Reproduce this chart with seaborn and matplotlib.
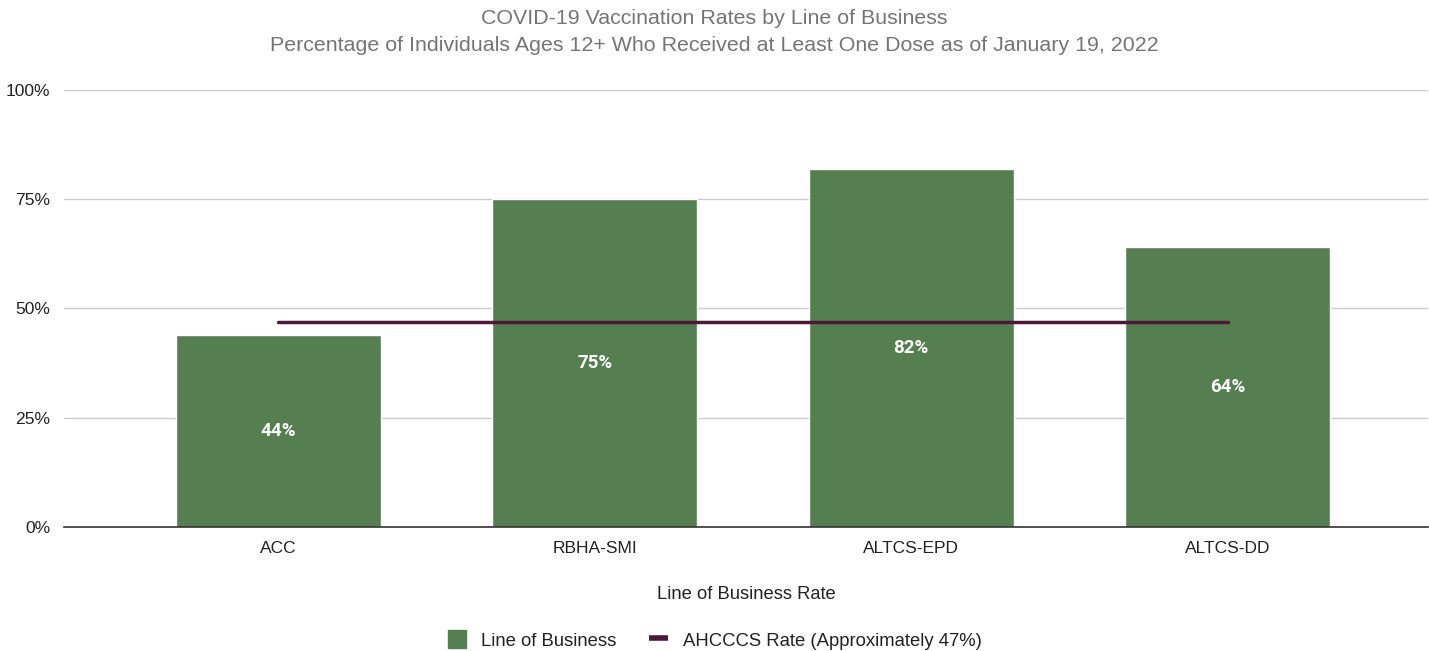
import numpy as np
import pandas as pd
import seaborn as sns
import matplotlib.pyplot as plt
from matplotlib.patches import Patch
from matplotlib.lines import Line2D

# 데이터
categories = ["ACC", "RBHA-SMI", "ALTCS-EPD", "ALTCS-DD"]
rates = [0.44, 0.75, 0.82, 0.64]
ahcccs_rate = [0.47, 0.47, 0.47, 0.47]
y_ticks = [0, 0.25, 0.5, 0.75, 1.0]
y_tick_labels = ["0%", "25%", "50%", "75%", "100%"]

green = "#557f50"
maroon = "#4b1a36"

sns.set_style("white")
plt.rcParams['font.family'] = ['Liberation Sans', 'DejaVu Sans']

df = pd.DataFrame({"lob": categories, "rate": rates})

fig = plt.figure(figsize=(14.29, 6.51), dpi=100)
ax = fig.add_axes([0.0448, 0.1905, 0.9545, 0.6713])

sns.barplot(data=df, x="lob", y="rate", color=green, saturation=1, width=0.647, ax=ax, zorder=2)
sns.lineplot(x=np.arange(len(categories)), y=ahcccs_rate, color=maroon, linewidth=2.5, ax=ax, zorder=3)

# 막대 안쪽 라벨
for i, v in enumerate(rates):
    ax.text(i, v / 2, f"{round(v * 100)}%", ha="center", va="center", color="white",
            fontsize=13.5, fontweight="bold", family=["Roboto", "DejaVu Sans"])

ax.set_ylim(0, 1)
ax.set_xlim(-0.677, 3.633)
ax.set_yticks(y_ticks)
ax.set_yticklabels(y_tick_labels)
ax.yaxis.grid(True, color="#cccccc", linewidth=1)
ax.set_axisbelow(True)
for s in ["top", "right", "left"]:
    ax.spines[s].set_visible(False)
ax.spines["bottom"].set_color("#333333")
ax.spines["bottom"].set_linewidth(1.2)
ax.tick_params(axis="both", length=0, colors="#222222")
ax.tick_params(axis="x", pad=10, labelsize=12.5)
ax.tick_params(axis="y", pad=10, labelsize=12.6)

ax.set_xlabel("Line of Business Rate", fontsize=13.2, color="#222222", labelpad=22)
ax.set_ylabel("")

fig.text(0.5, 0.972, "COVID-19 Vaccination Rates by Line of Business", ha="center", va="center",
         fontsize=15.4, color="#757575")
fig.text(0.5, 0.93, "Percentage of Individuals Ages 12+ Who Received at Least One Dose as of January 19, 2022",
         ha="center", va="center", fontsize=15.4, color="#757575")

handles = [Patch(facecolor=green, edgecolor=green),
           Line2D([0], [0], color=maroon, linewidth=4, solid_capstyle="butt")]
fig.legend(handles, ["Line of Business", "AHCCCS Rate (Approximately 47%)"],
           loc="center", bbox_to_anchor=(0.5, 0.017), ncol=2, frameon=False,
           fontsize=13.3, handlelength=1.0, handleheight=1.1, columnspacing=1.8,
           handletextpad=0.8, labelcolor="#222222")

fig.savefig("out.png", dpi=100)
